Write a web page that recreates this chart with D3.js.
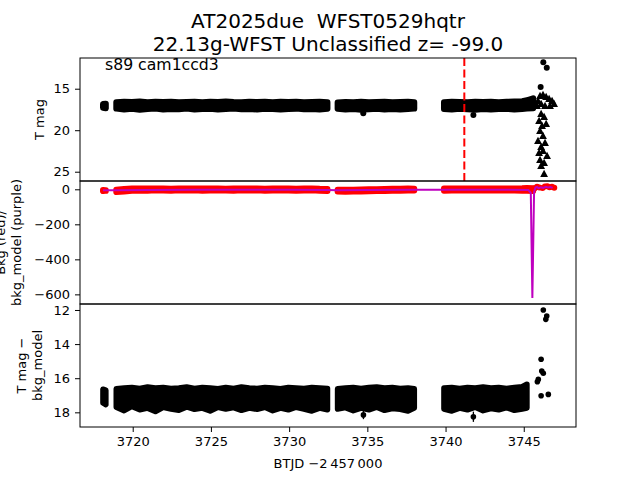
<!DOCTYPE html>
<html><head><meta charset="utf-8">
<script src="https://cdn.jsdelivr.net/npm/d3@7"></script>
<style>body{margin:0;background:#fff}svg{display:block}text{font-family:"DejaVu Sans",sans-serif}</style>
</head><body>
<script>
// ---------- data ----------
const titleLines = ["AT2025due  WFST0529hqtr", "22.13g-WFST Unclassified z= -99.0"];
const panelNote = "s89 cam1ccd3";
const xTicks = [3720, 3725, 3730, 3735, 3740, 3745];
const magTicks = [15, 20, 25];
const bkgTicks = [0, -200, -400, -600];
const diffTicks = [12, 14, 16, 18];
const markerTime = 3741.2;

// binned light-curve envelopes (null = gap between observing segments)
const bandT = [3718.10, 3718.28, null,
  3718.95,3719.45,3719.95,3720.45,3720.95,3721.45,3721.95,3722.45,3722.95,3723.45,3723.95,3724.45,3724.95,3725.45,3725.95,3726.45,3726.95,3727.45,3727.95,3728.45,3728.95,3729.45,3729.95,3730.45,3730.95,3731.45,3731.95,3732.45, null,
  3733.10,3733.60,3734.10,3734.60,3735.10,3735.60,3736.10,3736.60,3737.10,3737.60,3738.00, null,
  3739.90,3740.40,3740.90,3741.40,3741.90,3742.40,3742.90,3743.40,3743.90,3744.40,3744.90,3745.20,3745.60];
const magLo = [16.85,16.80,null,
  16.62,16.58,16.60,16.55,16.62,16.58,16.60,16.56,16.62,16.60,16.57,16.62,16.58,16.60,16.55,16.60,16.62,16.57,16.60,16.58,16.62,16.56,16.60,16.58,16.62,16.60,16.57,16.62,null,
  16.65,16.60,16.62,16.58,16.62,16.60,16.57,16.62,16.60,16.58,16.62,null,
  16.62,16.58,16.60,16.62,16.57,16.60,16.58,16.62,16.58,16.55,16.50,16.40,16.15];
const magHi = [17.30,17.35,null,
  17.40,17.50,17.42,17.55,17.45,17.40,17.52,17.44,17.48,17.40,17.50,17.45,17.42,17.52,17.46,17.40,17.48,17.44,17.50,17.42,17.46,17.52,17.44,17.40,17.48,17.45,17.50,17.42,null,
  17.42,17.50,17.45,17.55,17.48,17.42,17.50,17.45,17.52,17.44,17.40,null,
  17.45,17.50,17.42,17.48,17.55,17.44,17.50,17.46,17.42,17.50,17.45,17.40,17.35];
const diffLo = [16.65,16.70,null,
  16.62,16.58,16.55,16.60,16.52,16.58,16.55,16.60,16.57,16.52,16.60,16.55,16.58,16.62,16.55,16.60,16.52,16.58,16.60,16.55,16.58,16.62,16.55,16.58,16.60,16.55,16.58,16.60,null,
  16.62,16.58,16.55,16.60,16.55,16.52,16.58,16.55,16.60,16.57,16.62,null,
  16.58,16.55,16.60,16.55,16.58,16.52,16.58,16.55,16.60,16.55,16.50,16.35,null];
const diffHi = [17.45,17.55,null,
  17.70,17.90,17.65,17.85,17.75,17.95,17.70,17.80,17.88,17.68,17.82,17.75,17.92,17.70,17.80,17.72,17.88,17.75,17.82,17.70,17.90,17.75,17.85,17.70,17.80,17.92,17.75,17.85,null,
  17.80,17.72,17.90,17.75,17.85,17.70,17.88,17.78,17.82,17.92,17.75,null,
  17.80,17.92,17.75,17.85,17.70,17.90,17.78,17.85,17.72,17.88,17.80,17.75,null];
const bkgLo = [-10,-9,null,
  -15,-12,-8,-7,-8,-6,-7,-8,-6,-7,-6,-8,-7,-6,-7,-8,-6,-7,-6,-8,-7,-6,-7,-8,-7,-6,-8,-9,null,
  -12,-14,-13,-12,-11,-10,-9,-8,-8,-7,-7,null,
  -8,-7,-6,-7,-6,-7,-6,-7,-6,-7,-8,-8,-10];
const bkgHi = [-4,-5,null,
  -2,2,4,5,4,5,4,3,5,4,5,4,5,4,3,5,4,5,4,3,4,5,4,3,4,5,3,2,null,
  -2,-3,-2,-1,0,1,2,3,3,4,3,null,
  4,5,4,5,4,5,4,5,4,5,6,8,6];

// isolated points
const magOddT = [3734.74, 3741.78];
const magOddV = [17.96, 18.17];
const flareMagT = [3746.08, 3746.25, 3746.47];
const flareMagV = [14.80, 11.82, 12.47];
const limitT = [3746.04,3746.23,3746.43,3746.62,3746.81,3746.94,3745.91,3746.11,3746.36,3746.68,3745.85,
  3746.11,3746.30,3745.98,3746.17,3746.43,3746.04,3746.23,3745.91,3746.36,3746.11,3745.98,3746.23,3746.49,3746.04,3746.30,3746.11,3746.30];
const limitV = [15.88,15.76,16.00,16.24,16.48,16.84,16.48,16.84,17.08,17.08,17.08,
  18.05,18.41,18.89,19.49,19.25,20.10,20.70,21.30,21.54,22.02,22.75,22.50,23.11,23.59,23.95,24.31,25.28];
const bkgEndT = [3745.70,3745.85,3746.00,3746.20,3746.35,3746.50,3746.65,3746.80,3746.95];
const bkgEndV = [6, 14, 10, 8, 16, 18, 12, 15, 9];
const modelT = [3718.10,3719.0,3721.0,3724.0,3727.0,3730.0,3732.5,3733.1,3735.0,3738.0,3739.9,3742.0,3744.0,3745.30,3745.45,3745.55,3745.66,3745.75,3745.85,3745.95,3746.10,3746.25,3746.40,3746.55,3746.70,3746.85];
const modelV = [-6,-6,-4,-3,-3,-3,-4,-5,-4,-3,-3,-3,-3,-4,-20,-621,-15,10,14,6,12,8,14,10,13,8];
const diffOddT = [3734.75, 3741.78];
const diffOddV = [18.15, 18.26];
const diffOddE = [0.25, 0.30];
const flareDiffT = [3745.87,3745.93,3746.11,3746.15,3746.25,3746.11,3746.57,3746.25,3746.47,3746.41];
const flareDiffV = [16.21,16.07,14.89,15.58,15.71,17.03,16.95,12.00,12.35,12.55];
const flareDiffE = [0.12,0.10,0.05,0.08,0.08,0.10,0.10,0.04,0.05,0.05];

// ---------- layout ----------
const W = 640, H = 480, L = 80, R = 576;
const P = [[58,181],[181,304],[304,427]];
const svg = d3.select("body").append("svg").attr("width", W).attr("height", H);
const x = d3.scaleLinear().domain([3716.63, 3748.34]).range([L, R]);
const yMag = d3.scaleLinear().domain([11.3, 26.12]).range(P[0]);
const yBkg = d3.scaleLinear().domain([47.4, -655]).range(P[1]);
const yDiff = d3.scaleLinear().domain([11.65, 18.86]).range(P[2]);

const defs = svg.append("defs");
P.forEach((p,i)=>defs.append("clipPath").attr("id","c"+i).append("rect")
  .attr("x",L).attr("y",p[0]).attr("width",R-L).attr("height",p[1]-p[0]));
const g = P.map((p,i)=>svg.append("g").attr("clip-path",`url(#c${i})`));

const idx = d3.range(bandT.length);
function band(gg, y, lo, hi, color, r){
  const area = d3.area().defined(i => bandT[i]!=null && lo[i]!=null && hi[i]!=null)
    .x(i => x(bandT[i])).y0(i => y(lo[i])).y1(i => y(hi[i]));
  gg.append("path").attr("d", area(idx)).attr("fill", color).attr("stroke", color)
    .attr("stroke-width", 2*r).attr("stroke-linejoin","round").attr("stroke-linecap","round");
}

// top panel
band(g[0], yMag, magLo, magHi, "#000", 3);
magOddT.forEach((t,i)=>g[0].append("circle").attr("cx",x(t)).attr("cy",yMag(magOddV[i])).attr("r",3));
flareMagT.forEach((t,i)=>g[0].append("circle").attr("cx",x(t)).attr("cy",yMag(flareMagV[i])).attr("r",3));
limitT.forEach((t,i)=>g[0].append("path").attr("transform",`translate(${x(t)},${yMag(limitV[i])})`)
  .attr("d","M0,-4.2L3.9,3L-3.9,3Z").attr("fill","#000"));
g[0].append("line").attr("x1",x(markerTime)).attr("x2",x(markerTime)).attr("y1",P[0][0]).attr("y2",P[0][1])
  .attr("stroke","#ff0000").attr("stroke-width",2).attr("stroke-dasharray","8,3.5");

// middle panel
band(g[1], yBkg, bkgLo, bkgHi, "#ff0000", 3);
bkgEndT.forEach((t,i)=>g[1].append("circle").attr("cx",x(t)).attr("cy",yBkg(bkgEndV[i])).attr("r",3).attr("fill","#ff0000"));
g[1].append("path").attr("d", d3.line().x(i=>x(modelT[i])).y(i=>yBkg(modelV[i]))(d3.range(modelT.length)))
  .attr("fill","none").attr("stroke","#bf00bf").attr("stroke-width",2);

// bottom panel
band(g[2], yDiff, diffLo, diffHi, "#000", 2.8);
function errPts(T,V,E){
  T.forEach((t,i)=>{
    g[2].append("line").attr("x1",x(t)).attr("x2",x(t)).attr("y1",yDiff(V[i]-E[i])).attr("y2",yDiff(V[i]+E[i]))
      .attr("stroke","#000").attr("stroke-width",1.3);
    g[2].append("circle").attr("cx",x(t)).attr("cy",yDiff(V[i])).attr("r",2.8);
  });
}
errPts(diffOddT, diffOddV, diffOddE);
errPts(flareDiffT, flareDiffV, flareDiffE);

// axes
const fs = 13;
function styleAxis(a){
  a.select(".domain").remove();
  a.selectAll("line").attr("stroke","#000").attr("stroke-width",1);
  a.selectAll("text").attr("font-size",fs).attr("font-family","DejaVu Sans").attr("fill","#000");
}
styleAxis(svg.append("g").attr("transform",`translate(${L},0)`).call(d3.axisLeft(yMag).tickValues(magTicks).tickSize(5).tickPadding(5)));
styleAxis(svg.append("g").attr("transform",`translate(${L},0)`).call(d3.axisLeft(yBkg).tickValues(bkgTicks).tickSize(5).tickPadding(5)));
styleAxis(svg.append("g").attr("transform",`translate(${L},0)`).call(d3.axisLeft(yDiff).tickValues(diffTicks).tickSize(5).tickPadding(5)));
styleAxis(svg.append("g").attr("transform",`translate(0,${P[2][1]})`).call(d3.axisBottom(x).tickValues(xTicks).tickFormat(d3.format("d")).tickSize(5).tickPadding(5)));

// frames
P.forEach(p=>svg.append("rect").attr("x",L).attr("y",p[0]).attr("width",R-L).attr("height",p[1]-p[0])
  .attr("fill","none").attr("stroke","#000").attr("stroke-width",1));

// texts
svg.append("text").attr("x",328).attr("y",28).attr("text-anchor","middle").attr("font-size",20)
  .style("white-space","pre").text(titleLines[0]);
svg.append("text").attr("x",328).attr("y",51).attr("text-anchor","middle").attr("font-size",20)
  .style("white-space","pre").text(titleLines[1]);
svg.append("text").attr("x",105).attr("y",70).attr("font-size",15.7).text(panelNote);
svg.append("text").attr("x",328).attr("y",468).attr("text-anchor","middle").attr("font-size",fs)
  .text("BTJD \u22122\u2009457\u2009000");
function ylab(lines, xs, cy){
  lines.forEach((s,i)=>svg.append("text").attr("transform",`translate(${xs[i]},${cy}) rotate(-90)`)
    .attr("text-anchor","middle").attr("font-size",fs).text(s));
}
ylab(["T mag"], [44], 119.5);
ylab(["Bkg (red)/", "bkg_model (purple)"], [5, 21], 242.5);
ylab(["T mag \u2212", "bkg_model"], [26, 42], 365.5);
</script>
</body></html>
